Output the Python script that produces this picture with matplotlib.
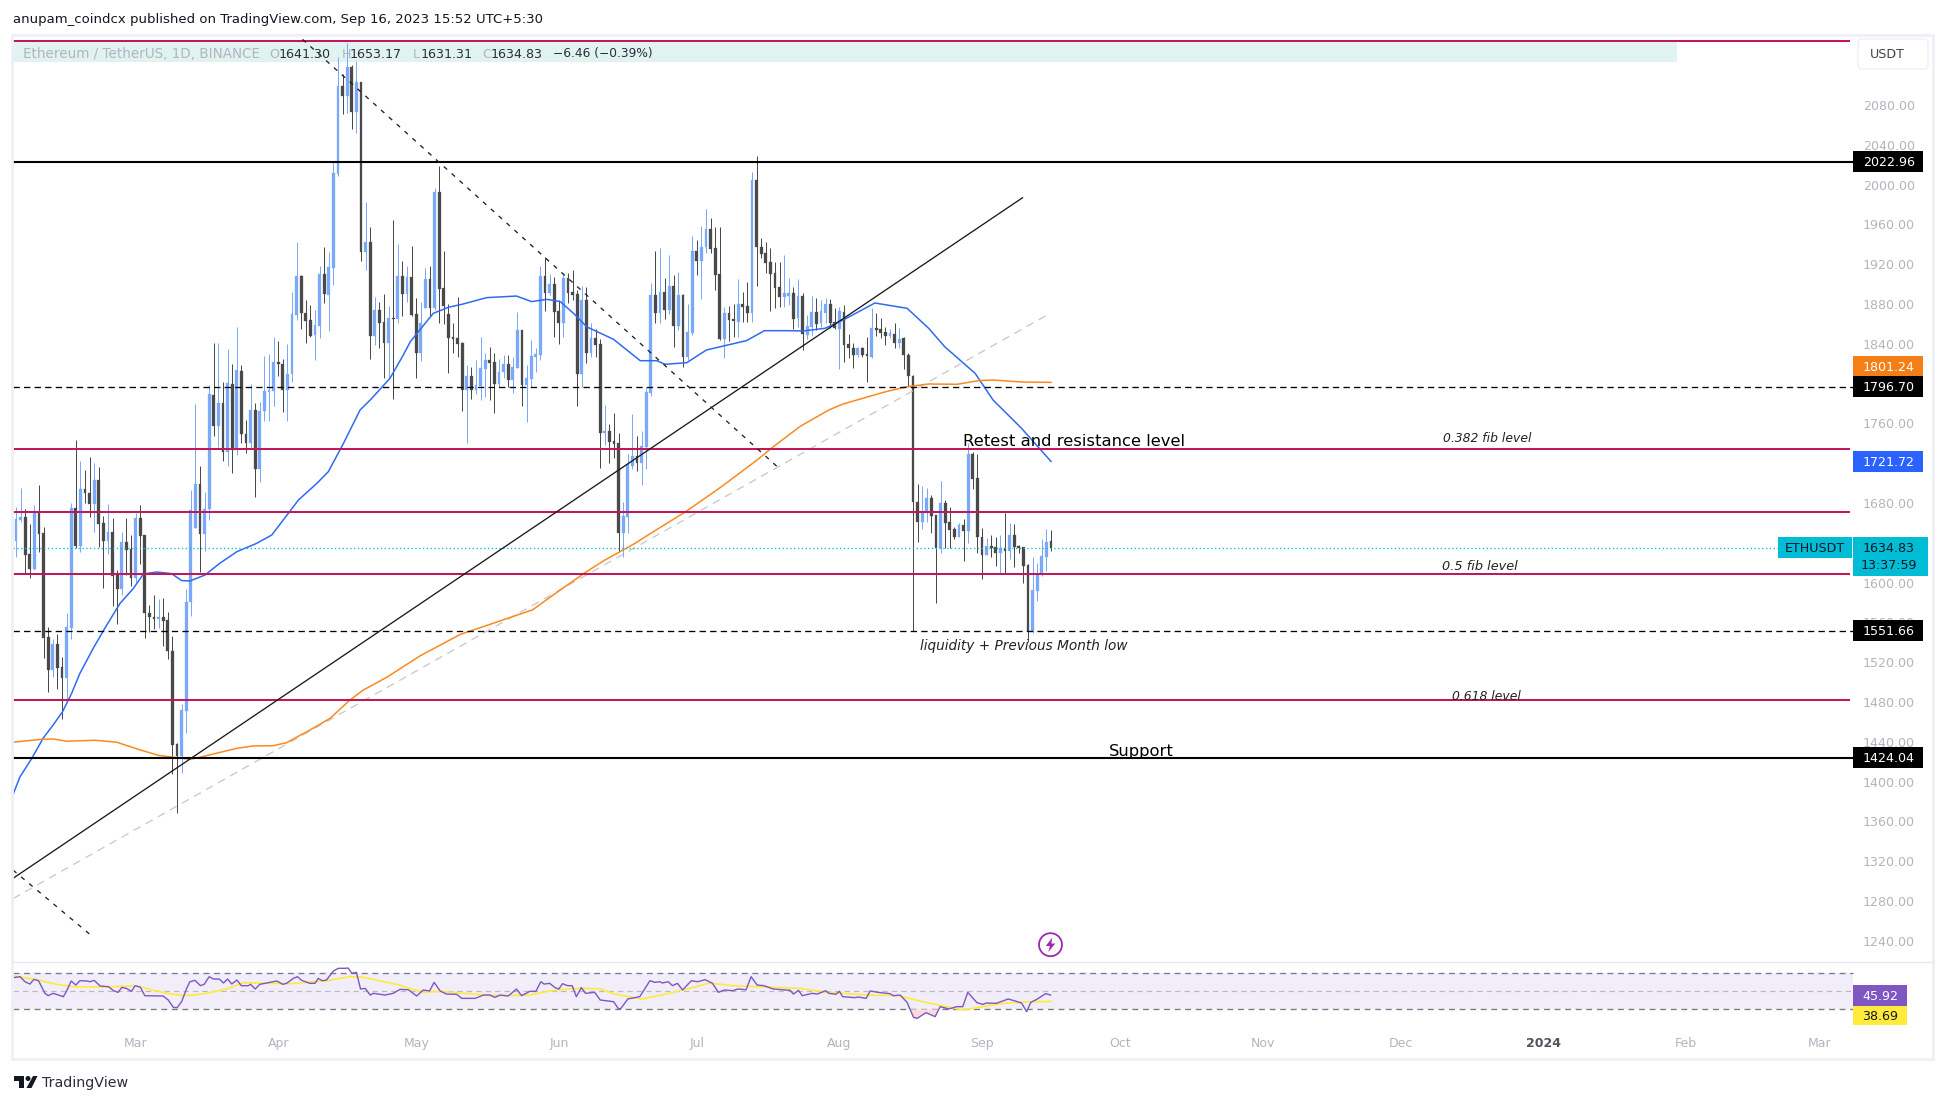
import numpy as np
import matplotlib
matplotlib.use("Agg")
import matplotlib.pyplot as plt
from matplotlib.patches import Rectangle, FancyBboxPatch, Polygon, Circle

W, H = 1946, 1104

# ---- candles, one per day from 3 Feb 2023 ----
opens = [1642,1663,1665.6,1628.7,1613.3,1671,1649.5,1545,1512,1538,
    1515,1504.5,1554.4,1674.6,1637,1693.7,1690.4,1679,1703,1659.5,
    1642,1650.5,1607.6,1594,1640.5,1633.7,1605,1664.6,1647.8,1569,
    1565.8,1563.7,1565,1562,1531.6,1437.4,1425.7,1471,1580.5,1655,
    1699,1648.8,1673.6,1789,1757.8,1780,1731.6,1800,1733,1813,
    1749,1740.7,1773.5,1714,1772,1791.9,1793,1821.4,1820,1794,
    1810,1869,1908,1871,1864,1848.5,1858,1910,1889,1916.5,
    2010.7,2099,2089.4,2118.5,2073.3,2103.5,1932.6,1942.3,1847.9,1874,
    1862,1840.8,1866,1865.3,1908,1889.7,1906.8,1870,1830.4,1876.3,
    1905,1875.7,1992.3,1895.8,1870,1846.5,1845.5,1841,1793.6,1807.7,
    1793.6,1797.6,1815,1823.8,1821.4,1799.6,1811.4,1819.7,1803.7,1815.7,
    1853.9,1798.6,1805,1827,1829,1908.2,1890.7,1900,1873,1861,
    1906,1891.8,1890,1809.7,1884,1830.5,1845.9,1839.8,1750.6,1752.3,
    1742,1739.9,1649.5,1666,1717,1727,1720.5,1736.5,1790.8,1889,
    1871.3,1891.8,1874,1898,1858,1889,1827,1851,1933,1923,
    1937.3,1955.4,1936,1910,1845,1870.6,1865,1862.3,1880,1878,
    1871.3,2004.6,1937.6,1931,1921.9,1910.8,1896.8,1887.4,1888.4,1890.7,
    1865.6,1888,1848.9,1857.3,1871.7,1860.6,1871.3,1880,1861.6,1854.9,
    1872.3,1839.5,1835.5,1828.8,1835.5,1829.8,1827,1855.6,1854.6,1851.5,
    1847.9,1849.5,1840.5,1845.5,1828.8,1807.7,1680.7,1661.2,1669.6,1684.7,
    1667.9,1634.4,1679.6,1660.9,1653.5,1646,1657.5,1652.2,1729.2,1704.8,
    1645.5,1627.7,1636.8,1635.4,1630,1634.4,1632,1647.8,1636.8,1635.4,
    1617.7,1550.7,1591.9,1607.3,1626,1641.3]
closes = [1663.6,1666,1627.7,1613.7,1671,1648.8,1544.6,1512,1538,1514.5,
    1504.5,1555,1674.6,1637,1693.7,1690.4,1679,1703,1659,1642,
    1650.5,1607,1594,1640.5,1632.8,1605,1664.6,1647,1569,1565.8,
    1563.7,1565,1561.7,1531.6,1436.8,1425.7,1472,1580.5,1673,1699,
    1648.8,1673.6,1789.2,1757.8,1780,1731.6,1800.3,1733,1813.4,1749,
    1740,1773.5,1714,1772.5,1793,1793.6,1821.4,1820,1793.6,1810,
    1870,1908,1871,1863,1848,1858.6,1910,1889.7,1916.9,2011.4,
    2099,2089.4,2117.9,2073.3,2102.8,1932.6,1942.3,1847.9,1874,1861.3,
    1840.8,1865.6,1865.3,1908,1889.7,1906.8,1869,1830.4,1860.6,1905.2,
    1875.7,1992.3,1895.4,1878.3,1845.9,1844.9,1840,1793.6,1807.7,1793.6,
    1798.3,1815.7,1823.8,1821,1799.6,1811.7,1819.7,1803.7,1816.4,1853.9,
    1798.6,1805.3,1827.8,1829.8,1908.2,1890.7,1900,1872.3,1861,1906,
    1891.4,1889,1809.7,1884,1830.5,1845.9,1838.8,1750.6,1752.3,1741.6,
    1739.6,1649.5,1666.9,1718.8,1727,1720.5,1737,1791.5,1889,1871.3,
    1891.8,1874,1898,1858,1889,1827,1851.9,1933.3,1923,1937.3,
    1955.4,1935.6,1909.5,1845,1870.6,1864,1862.6,1880,1877.3,1871.3,
    2004.6,1937,1930.3,1921.6,1910.5,1896.4,1887.4,1890.7,1891.4,1865,
    1888.4,1849.9,1857.9,1872.3,1859.6,1873.3,1880,1860.6,1855.6,1873,
    1838.8,1835.5,1828.8,1835.5,1828.8,1827.8,1855.6,1853.9,1851,1847.9,
    1850.5,1840.5,1844.5,1828.8,1807.7,1680.7,1661.2,1669.6,1684.7,1667.3,
    1634.4,1679.6,1660.2,1652.9,1645.5,1657.5,1652.2,1729.2,1704.4,1645.5,
    1627.7,1636.8,1634.8,1630,1634.4,1632,1647.5,1635.8,1634.8,1617,
    1551.3,1592.5,1607.6,1626.7,1640.8,1634.83]
highs = [1676,1695,1673.6,1658.9,1678,1698,1655.5,1555,1543,1548,
    1525.5,1569,1679.6,1743,1722,1713,1726,1720,1716,1667,
    1678.6,1664.6,1612.6,1651,1664.6,1647.8,1670,1678,1647.8,1577.5,
    1588,1583,1584,1570.4,1546,1439,1478,1594,1693,1779.5,
    1717,1690.7,1799,1840.5,1840.5,1802,1834.8,1819.7,1857,1818.7,
    1763.5,1800,1780,1782,1828,1829.8,1847,1843,1825,1839.8,
    1892,1942.7,1908.8,1884,1878.7,1874,1918,1937.6,1932.6,2023,
    2128,2110.8,2142,2120,2124,2103.5,1982.5,1957,1886.7,1882.4,
    1890,1878,1964.4,1940.3,1923,1918,1938.3,1885.7,1882.4,1915.9,
    1918,1997,2018.7,1933,1880,1861,1886.7,1842,1818.4,1816.4,
    1823.8,1846.5,1830.5,1836.5,1831,1824.4,1828.8,1828.8,1827,1871.7,
    1853.9,1818.7,1843.8,1835.5,1918,1927,1910,1907.5,1884,1910,
    1910.8,1914,1894,1898,1897.5,1860.6,1854.6,1844.5,1778.4,1759.3,
    1770.7,1750,1681,1729,1769.4,1747.6,1752.3,1796.2,1900.8,1933,
    1936,1905.8,1929,1909,1911.9,1890,1880,1948.4,1944,1958.4,
    1975,1966,1957.7,1957,1877.3,1878,1880,1905.2,1891.8,1901.8,
    2012.7,2028.8,1946.7,1942.7,1936,1922.6,1922.6,1929.3,1905.8,1896.8,
    1905,1890.7,1869,1888,1885.7,1884,1885.7,1884.7,1875.7,1877.3,
    1879,1849.9,1840.5,1836.5,1837,1847,1875.7,1871.3,1865.6,1857.3,
    1854.6,1861.3,1855.6,1847,1831,1808.7,1698.7,1697,1694.7,1688,
    1667.9,1702,1683,1676.3,1656,1660,1663.6,1740,1731.6,1729,
    1654.5,1645,1647.8,1645.5,1647.8,1670,1659.5,1658.9,1637.8,1636,
    1618.7,1625.4,1619.4,1643.8,1653.5,1653.17]
lows = [1626,1661,1609.3,1605,1612.6,1631,1524.5,1490,1505.5,1493,
    1462.6,1482,1543,1634.4,1631,1680,1666,1651,1636,1595,
    1629,1576,1558,1587.5,1607.6,1596.6,1601,1619,1544.6,1550,
    1553.4,1554.7,1536,1523,1408,1368.8,1409,1449,1566,1655,
    1611,1632,1663,1747.7,1736.6,1722.5,1717,1710.5,1728,1740,
    1730,1735,1686,1701,1762.8,1762.8,1777.8,1807.7,1771.5,1762.8,
    1802,1864,1854.6,1841,1847,1823.7,1846,1880.7,1853,1899,
    2008.7,2071,2071.6,2056,2051.6,1923.6,1914,1825,1838.8,1836,
    1806,1807,1785,1861.3,1868,1882.4,1868.3,1806,1823,1875.7,
    1867,1874,1860.6,1860,1811,1831,1827,1772.8,1740.7,1785,
    1790,1784,1786.9,1783.6,1770.8,1796.3,1805.3,1796.3,1790.3,1815.4,
    1777.5,1761.8,1796.3,1812,1823.8,1873,1889,1847,1839.8,1846.5,
    1881,1884,1777.5,1797,1820.4,1826.4,1826.4,1715.4,1738,1720.5,
    1724.8,1631,1626,1650,1714,1712,1698,1714,1787.6,1861,
    1861,1865,1869.6,1837,1854,1817,1823.8,1848.9,1909,1885,
    1931.6,1931.6,1894,1843.8,1825.8,1842.8,1847,1847,1862.3,1862.3,
    1862.3,1898.5,1926,1910.8,1873.3,1875.7,1876.7,1877.3,1879,1855,
    1857,1833.8,1844.5,1847.9,1853.9,1857,1860.6,1855.6,1854.6,1814.4,
    1821.4,1825.4,1816,1827,1827,1802,1826,1847.9,1845.5,1838.8,
    1845.5,1835.5,1835.5,1814.4,1797,1551.3,1641,1653.9,1661.2,1649.5,
    1579.8,1629.4,1635,1635,1643.8,1645.5,1622,1640,1694.4,1630,
    1603.3,1627.7,1625.4,1617,1609.3,1609.3,1624,1616,1630,1600,
    1540.6,1549.7,1581.8,1606.6,1612,1631.31]

# ---- moving averages (x = candle number) ----
ma50_x = [-0.6,0.9,3.4,5.9,8.1,10.1,12.1,13.9,16.8,19.3,22.6,25.5,27.7,30.6,33.8,36,37.8,41.1,44.3,48,
    52.3,55.6,59.2,61.4,65.4,67.9,71.2,74.8,77,81.3,84.2,85.7,90.7,94,97.2,102.3,108.8,112.1,115.4,118.3,
    121.2,124.1,129.9,135.7,139.3,141.1,145.8,150.1,158.8,162.7,167.3,171.2,175.9,180.5,186.7,193.7,198.4,
    201.9,208.5,212.4,218.6,225]
ma50_y = [1387.5,1405,1423,1443.5,1457,1470,1488.7,1508.8,1534,1554,1579,1594,1608.6,1610.6,1609,1602,1601.6,1607.6,1619.4,1631,
    1639.4,1647.8,1669.6,1683,1699.7,1711.5,1740,1773.5,1783.5,1805.3,1828.8,1842,1870.6,1876.7,1880,1886.4,1888,1882.4,1884.7,1882.4,
    1870.6,1857,1844.5,1823,1823,1819.4,1821,1833.8,1843.2,1853.2,1853.2,1852.9,1855.6,1865.6,1881,1875.7,1855.6,
    1837,1810.3,1783.5,1755,1721.72]
ma200_x = [-0.6,5.6,8.1,11,17.2,21.9,27,30.9,34.2,37.8,40,48,51.6,55.9,58.8,63.9,68.3,72.6,75.5,80.6,87.8,96.5,
    112.3,118.3,124,128,134.2,139.4,145.6,153.4,161.1,164.2,170.4,176.7,179.8,189.1,193.7,198.4,204.6,209.3,212.4,218.6,225]
ma200_y = [1439.5,1442.5,1442.8,1440.5,1441.5,1439.5,1431.8,1426.4,1424.4,1422.4,1424.4,1433.4,1435.8,1436,1439,1451.8,1463.6,1482,1492,1504.8,1526.2,1547.7,
    1572.6,1592.5,1610.9,1622.6,1638.4,1653.6,1671.3,1696.5,1723.2,1735,1756.8,1773.5,1779.5,1791.9,1796.9,1799.6,1799.3,1803,1803.6,1801.6,1801.24]

# ---- RSI pane ----
rsi_x = [-0.58,0.87,1.96,3.04,3.9,4.9,6.3,7,8.1,10.3,11,12,13,13.9,15.4,16.1,17,18.3,20.1,21.2,22.2,23,24,25.1,25.9,27,28,32,33.1,34.2,35,36,37.1,37.8,38.9,40.1,40.9,42,42.9,44.2,
    45.1,46,46.9,48,49,50.5,51,52,53,55.2,56.7,58,58.8,60.3,61.2,62.1,63.9,65,65.7,66.6,67.5,69,70.1,71.5,72.2,73,74,74.9,75.9,77,77.7,80.2,82,83.5,85.3,87.1,88.5,89.9,90.9,92.2,
    93.6,95.8,96.9,99.8,101.6,103,104.1,105.2,107,108.8,109.9,111.7,113,114.1,114.8,116,117.2,118,118.8,119.9,120.9,121.8,122.9,123.8,125.8,127,129.9,131,131.5,133,135.6,137.8,138.9,140,140.5,141.8,
    142.7,143.8,144.9,146.8,148.2,149.8,151.4,152.7,154,155.8,156.9,158.7,159.8,161.1,162.6,164.6,168.3,169,170.1,170.9,173.1,174.2,176,176.7,178.2,179,179.7,182.3,183.1,184.8,185.7,187.4,190,190.7,192.2,
    193.7,195.1,195.9,197.8,199.8,200.9,202.8,204.5,205.8,206.9,208.9,210.2,210.9,213.1,215.7,217.2,218.6,219.7,220.6,221.9,223.8,224.9]
rsi_y = [65.2,66.3,60.7,58.1,63.3,61.8,47.8,45.2,47.8,44.1,50.4,61.5,57,61.8,61.5,60.7,62.2,55.9,55.2,50.7,48.9,54.4,53.3,50,56.3,54.8,45.2,44.8,40.4,32.2,31.8,38.5,53.3,60.7,62.2,56.3,57.8,66.3,63.7,63.7,
    59.3,63.7,58.1,62.6,56.3,56.3,57.8,52.6,57.8,60,61.5,57.8,58.9,64.4,66.3,62.2,58.9,58.9,64.4,61.8,62.6,72.6,75.6,75.6,75.9,70,71.1,52.6,53.3,45.9,47.8,45.9,47.8,52.2,51.8,44.8,51.5,50.4,60,50.4,
    47,46.7,42.2,42.2,45.9,45.9,43.3,45.9,44.8,52.6,45.2,50,50,60.7,58.1,58.9,54.1,52.6,58.5,56.3,56.3,44.1,54.1,47.8,48.9,40.4,38.5,30.4,31.1,41.5,44.1,61.8,60,60.7,59.3,60.7,
    56.3,58.9,51.5,61.8,60.7,63,58.9,48.9,51.5,50.7,52.6,51.8,66.3,57,56.3,52.6,51.1,47,51.1,45.2,47.8,47,50.7,47.8,46.7,50,44.1,43,43.7,42.2,50.4,48.9,47.4,45.2,45.9,
    37.8,21.1,20,26.3,21.9,33,30.4,33,33,48.9,37.4,35.5,37,36.7,41.5,39.3,37,27.4,37.8,41.1,47.4,45.92]
rsi_ma_x = [-0.6,4.5,8.8,12.5,20.4,25.5,27.7,32.8,36.4,40.7,45.8,49.4,55.2,59.6,67.5,72.6,75.5,82.7,88.5,92.2,99.4,105.2,111.7,
    116,121.3,126.8,130.1,136,141.1,147,150.7,155.8,163.2,170.5,176.4,185.2,191.8,197.7,205.8,214.6,220.5,224.9]
rsi_ma_y = [67,63,57.8,55.2,54.8,56.3,54.1,47.8,45.2,47,52.6,59.6,58.9,58.5,61.8,66.3,65.6,57.8,48.9,50,47,45.2,45.9,
    50.4,53.3,53,47,41.5,46.7,54.1,59.3,56.3,54.8,53.3,48.9,45.9,45.2,37.8,29.3,36.7,38.5,38.69]

# ---- levels and drawings ----
red_levels = [2144.3, 1734.2, 1670.9, 1608.9, 1481.9]
black_levels = [2022.96, 1424.04]
dashed_levels = [1796.70, 1551.66]
last_price = 1634.83
price_ticks = list(range(1240, 2081, 40))
month_idx = [26, 57, 87, 118, 148, 179, 210, 240, 271, 301, 332, 363, 392]
month_labels = ["Mar", "Apr", "May", "Jun", "Jul", "Aug", "Sep", "Oct", "Nov", "Dec", "2024", "Feb", "Mar"]
trend_up_x, trend_up_y = [-0.65, 218.8], [1302.7, 1986.8]
trend_grey_x, trend_grey_y = [-0.65, 224.9], [1282.3, 1870.9]
trend_down_x, trend_down_y = [62.3, 165.6], [2146, 1716]
trend_down2_x, trend_down2_y = [-0.65, 16.5], [1311, 1244.7]

UP = "#7aa9f7"
DOWN = "#4a4a4a"
RED = "#c2185b"
GREY = "#b2b5be"
FRAME = "#eef0f7"

def px_axes(x0, y0, x1, y1, z):
    return fig.add_axes([x0 / W, 1 - y1 / H, (x1 - x0) / W, (y1 - y0) / H], zorder=z)

fig = plt.figure(figsize=(W / 100, H / 100), dpi=100, facecolor="white")

back = px_axes(0, 0, W, H, 0)
back.set_xlim(0, W)
back.set_ylim(H, 0)
back.axis("off")
back.add_patch(Rectangle((13, 42), 1664, 20, fc="#e0f3f1", ec="none"))

ax = px_axes(13, 35.5, 1857, 961.7, 1)
ax.patch.set_visible(False)
ax.set_xlim(-0.65, 400.2)
ax.set_ylim(1218.9, 2149.9)
for s in ax.spines.values():
    s.set_visible(False)
ax.set_xticks([])
ax.yaxis.tick_right()
ax.set_yticks(price_ticks, ["%.2f" % p for p in price_ticks])
ax.tick_params(axis="y", length=0, pad=4.3, labelsize=9.1, labelcolor=GREY)

x = np.arange(len(opens))
opens, closes, highs, lows = map(np.array, (opens, closes, highs, lows))
cols = [UP if c >= o else DOWN for o, c in zip(opens, closes)]
ax.vlines(x, lows, highs, colors=cols, lw=0.72, zorder=2)
ax.bar(x, np.abs(closes - opens), bottom=np.minimum(opens, closes), width=0.62,
       color=cols, edgecolor=cols, linewidth=0.2, zorder=2)

ax.plot(ma50_x, ma50_y, color="#2f6bf0", lw=1.1, zorder=3)
ax.plot(ma200_x, ma200_y, color="#f98a21", lw=1.1, zorder=3)

end_x = 398.7
ax.hlines(red_levels, -0.65, end_x, color=RED, lw=1.45, zorder=4)
ax.hlines(black_levels, -0.65, 399.4, color="black", lw=1.5, zorder=4)
ax.hlines(dashed_levels, -0.65, 399.4, color="black", lw=0.95, linestyles=[(0, (4.8, 3.2))], zorder=4)
ax.hlines(last_price, -0.65, 384, color="#00bcd4", lw=0.95, linestyles=[(0, (1, 1.9))], zorder=3)

ax.plot(trend_up_x, trend_up_y, color="#1a1a1a", lw=0.95, zorder=4)
ax.plot(trend_grey_x, trend_grey_y, color="#c9c9c9", lw=0.95, dashes=(6, 4.5), zorder=2.5)
ax.plot(trend_down_x, trend_down_y, color="#222222", lw=0.95, dashes=(3.4, 4.6), zorder=4)
ax.plot(trend_down2_x, trend_down2_y, color="#222222", lw=0.95, dashes=(3.4, 4.6), zorder=4)

ax_rsi = px_axes(13, 962, 1857, 1027, 1)
ax_rsi.patch.set_visible(False)
ax_rsi.set_xlim(-0.65, 400.2)
ax_rsi.set_ylim(10.4, 82.6)
for s in ax_rsi.spines.values():
    s.set_visible(False)
ax_rsi.set_yticks([])
ax_rsi.set_xticks(month_idx, month_labels)
ax_rsi.tick_params(axis="x", length=0, pad=7, labelsize=9, labelcolor=GREY)
ax_rsi.get_xticklabels()[10].set_color("#50535e")
ax_rsi.get_xticklabels()[10].set_fontweight("bold")
ax_rsi.fill_between([-0.65, 399.4], 30, 70, color="#f1edf9", lw=0, zorder=1)
ax_rsi.hlines([70, 30], -0.65, 399.4, color="#787b86", lw=0.95, linestyles=[(0, (4.5, 3.5))], zorder=2)
ax_rsi.hlines(50, -0.65, 399.4, color="#b9bac0", lw=0.85, linestyles=[(0, (4.5, 3.5))], zorder=2)
rx, ry = np.array(rsi_x), np.array(rsi_y)
ax_rsi.fill_between(rx, ry, 30, where=ry < 30, interpolate=True, color="#fbd9dc", lw=0, zorder=2)
ax_rsi.plot(rsi_ma_x, rsi_ma_y, color="#ffeb3b", lw=1.2, zorder=3)
ax_rsi.plot(rx, ry, color="#7e57c2", lw=1.0, zorder=4)

# everything in screen pixels goes on this layer
top = px_axes(0, 0, W, H, 2)
top.set_xlim(0, W)
top.set_ylim(H, 0)
top.axis("off")
top.patch.set_visible(False)

def price_px(p, a=ax):
    return H - a.transData.transform((0, p))[1]

def tag(x0, x1, yc, h, text, bg, fg, tx=None):
    top.add_patch(Rectangle((x0, yc - h / 2), x1 - x0, h, fc=bg, ec="none"))
    tx = (x0 + x1) / 2 if tx is None else tx
    top.text(tx, yc + 1, text, color=fg, fontsize=9.1, ha="center", va="center")

top.add_patch(Rectangle((12, 34.5), 1921, 1024, fc="none", ec=FRAME, lw=2))
top.plot([13, 1933], [961.7, 961.7], color="#e6e8ee", lw=0.9)
top.add_patch(FancyBboxPatch((1860, 41), 66, 26, boxstyle="round,pad=2,rounding_size=4", fc="white", ec=FRAME, lw=1))
top.text(1887, 54.7, "USDT", color="#40434e", fontsize=9.1, ha="center", va="center")

tag(1853, 1923, price_px(2022.96), 21, "2022.96", "black", "white", 1889)
tag(1853, 1923, price_px(1801.24) - 16, 21, "1801.24", "#f57f17", "white", 1889)
tag(1853, 1923, price_px(1796.70), 21, "1796.70", "black", "white", 1889)
tag(1853, 1923, price_px(1721.72), 21, "1721.72", "#2962ff", "white", 1889)
tag(1853, 1923, price_px(1551.66), 21, "1551.66", "black", "white", 1889)
tag(1853, 1923, price_px(1424.04), 21, "1424.04", "black", "white", 1889)

yl = price_px(last_price)
tag(1778, 1852, yl, 21, "ETHUSDT", "#00bcd4", "#131722")
top.add_patch(Rectangle((1853, yl - 10.5), 75, 39, fc="#00bcd4", ec="none"))
top.text(1889, yl + 1, "1634.83", color="#131722", fontsize=9.1, ha="center", va="center")
top.text(1889, yl + 18, "13:37:59", color="#131722", fontsize=9.1, ha="center", va="center")

tag(1853, 1907, price_px(45.92, ax_rsi), 21, "45.92", "#7e57c2", "white", 1880)
tag(1853, 1907, price_px(38.69, ax_rsi) + 14, 19, "38.69", "#ffeb3b", "#131722", 1880)

top.text(13, 20, "anupam_coindcx published on TradingView.com, Sep 16, 2023 15:52 UTC+5:30",
         color="#131722", fontsize=9.5, ha="left", va="center")
top.text(23, 54, "Ethereum / TetherUS, 1D, BINANCE", color=GREY, fontsize=9.75, ha="left", va="center")
for tx, letter in [(269, "O"), (341.5, "H"), (413, "L"), (482, "C")]:
    top.text(tx, 54, letter, color=GREY, fontsize=9.1, ha="left", va="center")
for tx, val in [(279, "1641.30"), (350, "1653.17"), (420.5, "1631.31"), (491, "1634.83")]:
    top.text(tx, 54, val, color="#2b2e38", fontsize=9.1, ha="left", va="center")
top.text(552.7, 54, "\u22126.46 (\u22120.39%)", color="#2b2e38", fontsize=8.8, ha="left", va="center")

top.text(963, 441.5, "Retest and resistance level", color="black", fontsize=11.8, ha="left", va="center")
top.text(1109, 751.5, "Support", color="black", fontsize=11.8, ha="left", va="center")
top.text(1443, 438, "0.382 fib level", color="#222222", fontsize=8.9, style="italic", ha="left", va="center")
top.text(1442, 566, "0.5 fib level", color="#222222", fontsize=9.3, style="italic", ha="left", va="center")
top.text(920, 646, "liquidity + Previous Month low", color="#222222", fontsize=9.85, style="italic", ha="left", va="center")
top.text(1452, 696, "0.618 level", color="#222222", fontsize=8.9, style="italic", ha="left", va="center")

# lightning badge
top.add_patch(Circle((1050.5, 944.7), 11.5, fc="white", ec="#9c27b0", lw=1.3))
top.add_patch(Polygon([(1052.3, 937.5), (1045.8, 946), (1049.8, 946), (1048.3, 952), (1055.3, 943.5), (1051.3, 943.5)],
                      closed=True, fc="#9c27b0", ec="none"))

# logo
top.add_patch(Polygon([(14, 1076), (24, 1076), (24, 1088), (19, 1088), (19, 1081), (14, 1081)], closed=True, fc="#131722", ec="none"))
top.add_patch(Circle((28, 1078.5), 2.5, fc="#131722", ec="none"))
top.add_patch(Polygon([(33, 1076), (37.5, 1076), (31.5, 1088), (26.5, 1088)], closed=True, fc="#131722", ec="none"))
top.text(42, 1083, "TradingView", color="#2a2e39", fontsize=10.3, ha="left", va="center")

fig.savefig("out.png", dpi=100)
